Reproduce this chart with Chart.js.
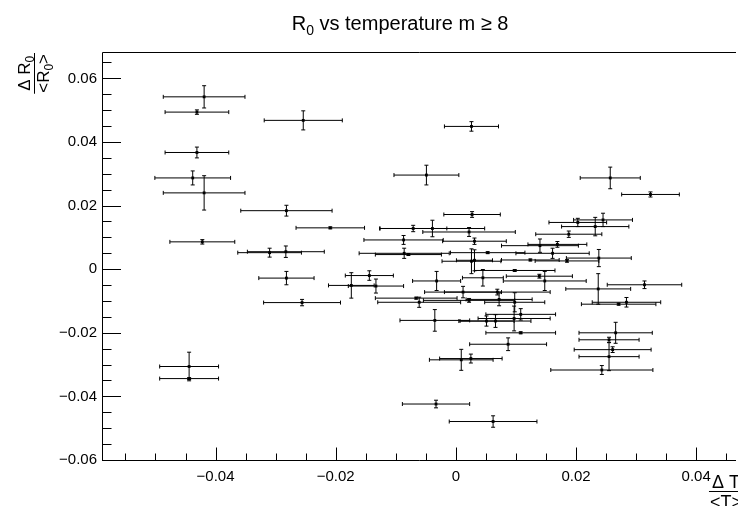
<!DOCTYPE html>
<html>
<head>
<meta charset="utf-8">
<script src="https://cdn.jsdelivr.net/npm/chart.js@4"></script>
<style>
  html, body { margin: 0; padding: 0; background: #fff; overflow: hidden; }
  canvas { display: block; }
</style>
</head>
<body>
<canvas id="chart" width="738" height="506"></canvas>
<script>
// relative temperature change vs relative R0 change, m >= 8
const xVals = [
  -0.0419, -0.0431, -0.0254, -0.0431, -0.0438, -0.0419, -0.0282, -0.0209, -0.0422, -0.0310, -0.0283,
  -0.0282, -0.0256, -0.0444, -0.0444,
  0.0026, -0.0049, 0.0027, -0.0071, -0.0039, 0.0022, -0.0087, 0.0031, -0.0086, -0.0079, 0.0053, 0.0026, 0.0031, 0.0124, 0.0098, -0.0144,
  -0.0174, -0.0133, -0.0032, 0.0045, 0.0139, 0.0148, 0.0012, 0.0069, -0.0066, -0.0061, 0.0022, 0.0072,
  0.0098, 0.0097, 0.0108, -0.0035, 0.0051, 0.0066, 0.0108, 0.0087, 0.0009, 0.0025, -0.0033, 0.0062,
  0.0257, 0.0324, 0.0203, 0.0245, 0.0232, 0.0188, 0.0140, 0.0169, 0.0161, 0.0185, 0.0238, 0.0237, 0.0314, 0.0271, 0.0284,
  0.0266, 0.0255, 0.0261, 0.0255, 0.0243
];
const yVals = [
  0.0542, 0.0494, 0.0468, 0.0367, 0.0287, 0.0240, 0.0184, 0.0130, 0.0086, 0.0052, 0.0055,
  -0.0028, -0.0105, -0.0306, -0.0344,
  0.0449, 0.0296, 0.0172, 0.0128, 0.0128, 0.0117, 0.0092, 0.0088, 0.0050, 0.0046, 0.0052, 0.0025, 0.0028, 0.0029, -0.0004, -0.0020,
  -0.0051, -0.0053, -0.0037, -0.0027, -0.0022, -0.0037, -0.0072, -0.0072, -0.0091, -0.0104, -0.0098, -0.0095,
  -0.0104, -0.0155, -0.0142, -0.0161, -0.0163, -0.0163, -0.0200, -0.0236, -0.0285, -0.0281, -0.0424, -0.0479,
  0.0287, 0.0235, 0.0147, 0.0155, 0.0134, 0.0110, 0.0074, 0.0078, 0.0050, 0.0026, 0.0035, -0.0062, -0.0049, -0.0110, -0.0104,
  -0.0200, -0.0222, -0.0253, -0.0275, -0.0317
];
const xErrs = [
  0.0068, 0.0053, 0.0065, 0.0053, 0.0063, 0.0068, 0.0076, 0.0057, 0.0054, 0.0053, 0.0064,
  0.0046, 0.0064, 0.0049, 0.0049,
  0.0045, 0.0054, 0.0047, 0.0056, 0.0087, 0.0077, 0.0066, 0.0053, 0.0075, 0.0055, 0.0062, 0.0049, 0.0030, 0.0048, 0.0067, 0.0040,
  0.0038, 0.0046, 0.0040, 0.0034, 0.0055, 0.0069, 0.0064, 0.0088, 0.0068, 0.0069, 0.0076, 0.0055,
  0.0050, 0.0060, 0.0058, 0.0058, 0.0046, 0.0059, 0.0058, 0.0064, 0.0053, 0.0052, 0.0056, 0.0073,
  0.0050, 0.0048, 0.0048, 0.0049, 0.0056, 0.0055, 0.0064, 0.0049, 0.0061, 0.0053, 0.0054, 0.0054, 0.0062, 0.0062, 0.0057,
  0.0061, 0.0050, 0.0064, 0.0050, 0.0085
];
const yErrs = [
  0.0035, 0.0007, 0.0030, 0.0017, 0.0022, 0.0054, 0.0017, 0.0003, 0.0007, 0.0014, 0.0018,
  0.0021, 0.0010, 0.0045, 0.0003,
  0.0015, 0.0031, 0.0009, 0.0010, 0.0026, 0.0014, 0.0014, 0.0010, 0.0016, 0.0003, 0.0003, 0.0039, 0.0033, 0.0003, 0.0003, 0.0015,
  0.0040, 0.0022, 0.0030, 0.0026, 0.0006, 0.0030, 0.0018, 0.0009, 0.0003, 0.0016, 0.0006, 0.0020,
  0.0030, 0.0039, 0.0018, 0.0034, 0.0016, 0.0020, 0.0003, 0.0020, 0.0033, 0.0014, 0.0012, 0.0018,
  0.0034, 0.0008, 0.0013, 0.0021, 0.0029, 0.0010, 0.0021, 0.0009, 0.0016, 0.0004, 0.0027, 0.0048, 0.0012, 0.0003, 0.0015,
  0.0033, 0.0008, 0.0009, 0.0044, 0.0014
];

const xTicks = [-0.04, -0.02, 0, 0.02, 0.04];
const yTicks = [-0.06, -0.04, -0.02, 0, 0.02, 0.04, 0.06];
const X_MIN = -0.0589, X_MAX = 0.0463;
const Y_MIN = -0.06, Y_MAX = 0.0683;

const FONT = "'Liberation Sans', Arial, sans-serif";
const fmtTick = (v) => v === 0 ? "0" : (v < 0 ? "\u2212" : "") + Math.abs(v).toFixed(2);

// draw a run of [text, isSub] pieces starting at x
function drawPieces(ctx, pieces, x, y, size) {
  for (const [t, sub] of pieces) {
    ctx.font = (sub ? size * 0.7 : size) + "px " + FONT;
    ctx.fillText(t, x, sub ? y + size * 0.25 : y);
    x += ctx.measureText(t).width;
  }
}
function piecesWidth(ctx, pieces, size) {
  let w = 0;
  for (const [t, sub] of pieces) {
    ctx.font = (sub ? size * 0.7 : size) + "px " + FONT;
    w += ctx.measureText(t).width;
  }
  return w;
}

const errorBars = {
  id: "errorBars",
  beforeDatasetsDraw(chart) {
    const { ctx, scales: { x, y } } = chart;
    ctx.save();
    ctx.strokeStyle = "#000";
    ctx.lineWidth = 1;
    const cap = 2;
    for (let i = 0; i < xVals.length; i++) {
      const px = x.getPixelForValue(xVals[i]);
      const py = y.getPixelForValue(yVals[i]);
      const xl = x.getPixelForValue(xVals[i] - xErrs[i]);
      const xr = x.getPixelForValue(xVals[i] + xErrs[i]);
      const yt = y.getPixelForValue(yVals[i] + yErrs[i]);
      const yb = y.getPixelForValue(yVals[i] - yErrs[i]);
      ctx.beginPath();
      ctx.moveTo(xl, py); ctx.lineTo(xr, py);
      ctx.moveTo(xl, py - cap); ctx.lineTo(xl, py + cap);
      ctx.moveTo(xr, py - cap); ctx.lineTo(xr, py + cap);
      ctx.moveTo(px, yt); ctx.lineTo(px, yb);
      ctx.moveTo(px - cap, yt); ctx.lineTo(px + cap, yt);
      ctx.moveTo(px - cap, yb); ctx.lineTo(px + cap, yb);
      ctx.stroke();
    }
    ctx.restore();
  }
};

const frameAndTitles = {
  id: "frameAndTitles",
  afterDraw(chart) {
    const { ctx, chartArea: a, scales: { x, y } } = chart;
    ctx.save();
    ctx.strokeStyle = "#000";
    ctx.lineWidth = 1;
    ctx.beginPath();
    ctx.moveTo(a.right + 2, a.top + 0.5); ctx.lineTo(a.left + 0.5, a.top + 0.5);
    ctx.lineTo(a.left + 0.5, a.bottom + 0.5); ctx.lineTo(a.right + 2, a.bottom + 0.5);
    // ticks, pointing into the frame
    for (let k = -12; k <= 13; k++) {
      const v = k * 0.005;
      if (v < Y_MIN - 1e-9 || v > Y_MAX) continue;
      const py = Math.round(y.getPixelForValue(v)) + 0.5;
      const len = k % 4 === 0 ? 19 : 9.5;
      ctx.moveTo(a.left, py); ctx.lineTo(a.left + len, py);
    }
    for (let k = -11; k <= 9; k++) {
      const v = k * 0.005;
      if (v < X_MIN || v > X_MAX) continue;
      const px = Math.round(x.getPixelForValue(v)) + 0.5;
      const len = k % 4 === 0 ? 12.5 : 6.5;
      ctx.moveTo(px, a.bottom); ctx.lineTo(px, a.bottom - len);
    }
    ctx.stroke();

    ctx.fillStyle = "#000";
    ctx.textBaseline = "alphabetic";
    ctx.textAlign = "left";

    // main title
    const tSize = 20;
    const title = [["R", false], ["0", true], [" vs temperature m \u2265 8", false]];
    const tw = piecesWidth(ctx, title, tSize);
    drawPieces(ctx, title, 400 - tw / 2, 30, tSize);

    // y title: fraction, rotated
    const ySize = 17;
    const num = [["\u0394 R", false], ["0", true]];
    const den = [["<R", false], ["0", true], [">", false]];
    ctx.save();
    ctx.translate(34, 53);
    ctx.rotate(-Math.PI / 2);
    const nw = piecesWidth(ctx, num, ySize);
    const dw = piecesWidth(ctx, den, ySize);
    const fw = Math.max(nw, dw) + 2;
    // right-aligned to the top of the axis
    ctx.translate(-fw, 0);
    drawPieces(ctx, num, (fw - nw) / 2, -4, ySize);
    drawPieces(ctx, den, (fw - dw) / 2, 15, ySize);
    ctx.beginPath();
    ctx.moveTo(0, 0.5); ctx.lineTo(fw, 0.5);
    ctx.stroke();
    ctx.restore();

    // x title: fraction at the right end
    const xSize = 18;
    const xn = [["\u0394 T", false]];
    const xd = [["<T>", false]];
    const xnw = piecesWidth(ctx, xn, xSize);
    const xdw = piecesWidth(ctx, xd, xSize);
    const xfw = Math.max(xnw, xdw) + 2;
    const x0 = 743 - xfw;
    drawPieces(ctx, xn, x0 + (xfw - xnw) / 2, 488, xSize);
    drawPieces(ctx, xd, x0 + (xfw - xdw) / 2, 508, xSize);
    ctx.beginPath();
    ctx.moveTo(x0, 491.5); ctx.lineTo(x0 + xfw, 491.5);
    ctx.stroke();
    ctx.restore();
  }
};

new Chart(document.getElementById("chart"), {
  type: "scatter",
  data: {
    datasets: [{
      data: xVals.map((v, i) => ({ x: v, y: yVals[i] })),
      pointStyle: "rect",
      pointRadius: 2,
      backgroundColor: "#000",
      borderColor: "#000",
      borderWidth: 0,
    }],
  },
  options: {
    responsive: false,
    animation: false,
    devicePixelRatio: 1,
    layout: { padding: { top: 52, right: 1, left: 0, bottom: 0 } },
    plugins: { legend: { display: false }, tooltip: { enabled: false }, title: { display: false } },
    scales: {
      x: {
        type: "linear",
        min: X_MIN,
        max: X_MAX,
        afterBuildTicks: (s) => { s.ticks = xTicks.map(v => ({ value: v })); },
        afterFit: (s) => { s.height = 46; },
        grid: { display: false, drawTicks: false },
        border: { display: false },
        ticks: {
          color: "#000",
          padding: 8,
          maxRotation: 0,
          autoSkip: false,
          font: { family: FONT, size: 15 },
          callback: fmtTick,
        },
      },
      y: {
        type: "linear",
        min: Y_MIN,
        max: Y_MAX,
        afterBuildTicks: (s) => { s.ticks = yTicks.map(v => ({ value: v })); },
        afterFit: (s) => { s.width = 102; },
        grid: { display: false, drawTicks: false },
        border: { display: false },
        ticks: {
          color: "#000",
          padding: 5,
          autoSkip: false,
          font: { family: FONT, size: 15 },
          callback: fmtTick,
        },
      },
    },
  },
  plugins: [errorBars, frameAndTitles],
});
</script>
</body>
</html>
